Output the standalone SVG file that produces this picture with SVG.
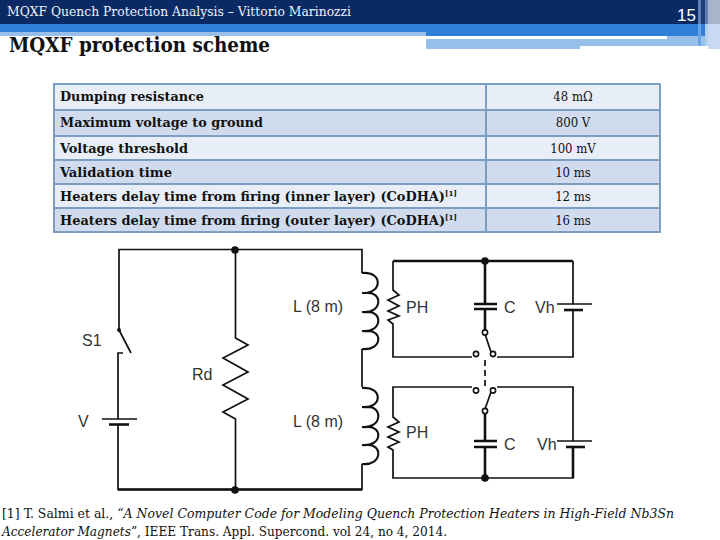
<svg xmlns="http://www.w3.org/2000/svg" width="720" height="540" viewBox="0 0 720 540">
<style>
.t{font-family:"DejaVu Serif Condensed","DejaVu Serif",serif;fill:#111}
.b{font-weight:bold;font-size:13px}
.s{font-weight:bold;font-size:8px}
.v{font-size:13px;text-anchor:middle}
.c{font-family:"Liberation Sans",Arial,sans-serif;font-size:16px;fill:#333}
.w{fill:none;stroke:#111;stroke-width:1.7}
.l{fill:none;stroke:#111;stroke-width:2.1}
.k{fill:none;stroke:#111;stroke-width:2.6}
.o{fill:#fff;stroke:#111;stroke-width:1.6}
.row{stroke:#7a9fc2;stroke-width:2}
.r1{fill:#e8eef7}.r2{fill:#d0dcee}
</style>
<rect width="720" height="540" fill="#fff"/>
<g id="header">
<rect width="720" height="24" fill="#0a2a66"/>
<rect y="24" width="720" height="12" fill="#2f7fd6"/>
<rect y="32" width="426" height="4" fill="#98bfea"/>
<rect x="426" y="39" width="154" height="10" fill="#98bfea"/>
<rect x="580" y="39" width="87" height="7" fill="#98bfea"/>
<rect x="667" y="36" width="41" height="10" fill="#98bfea"/>
<rect x="698" y="0" width="3" height="46" fill="#5f80b4"/>
<rect x="701" y="0" width="4" height="24" fill="#1d3c78"/>
<rect x="705" y="0" width="3" height="24" fill="#5f80b4"/>
<rect x="698" y="24" width="3" height="22" fill="#6aa4e6"/>
<rect x="705" y="24" width="3" height="22" fill="#b4d0f0"/>
<rect x="708" y="0" width="12" height="24" fill="#a8b4cc"/>
<rect x="708" y="24" width="12" height="25" fill="#c8daf2"/>
<text x="7" y="16" textLength="344" lengthAdjust="spacingAndGlyphs" style="font-family:'DejaVu Serif Condensed','DejaVu Serif',serif;font-size:13px;fill:#eef2f8">MQXF Quench Protection Analysis – Vittorio Marinozzi</text>
<text x="677" y="21" style="font-family:'Liberation Sans',Arial,sans-serif;font-size:17px;fill:#fff">15</text>
</g>
<text class="t" x="9" y="52" textLength="261" lengthAdjust="spacingAndGlyphs" font-size="20" font-weight="bold" fill="#000">MQXF protection scheme</text>
<g id="table">
<rect class="row r1" x="54" y="84" width="432" height="26"/><rect class="row r1" x="486" y="84" width="174" height="26"/>
<rect class="row r2" x="54" y="110" width="432" height="26"/><rect class="row r2" x="486" y="110" width="174" height="26"/>
<rect class="row r1" x="54" y="136" width="432" height="24"/><rect class="row r1" x="486" y="136" width="174" height="24"/>
<rect class="row r2" x="54" y="160" width="432" height="24"/><rect class="row r2" x="486" y="160" width="174" height="24"/>
<rect class="row r1" x="54" y="184" width="432" height="24"/><rect class="row r1" x="486" y="184" width="174" height="24"/>
<rect class="row r2" x="54" y="208" width="432" height="24"/><rect class="row r2" x="486" y="208" width="174" height="24"/>
<text class="t b" x="60" y="101" textLength="144" lengthAdjust="spacingAndGlyphs">Dumping resistance</text>
<text class="t b" x="60" y="127" textLength="203" lengthAdjust="spacingAndGlyphs">Maximum voltage to ground</text>
<text class="t b" x="60" y="153" textLength="128" lengthAdjust="spacingAndGlyphs">Voltage threshold</text>
<text class="t b" x="60" y="177" textLength="112" lengthAdjust="spacingAndGlyphs">Validation time</text>
<text class="t b" x="60" y="201" textLength="385" lengthAdjust="spacingAndGlyphs">Heaters delay time from firing (inner layer) (CoDHA)</text>
<text class="t s" x="445" y="196">[1]</text>
<text class="t b" x="60" y="225" textLength="385" lengthAdjust="spacingAndGlyphs">Heaters delay time from firing (outer layer) (CoDHA)</text>
<text class="t s" x="445" y="220">[1]</text>
<text class="t v" x="573" y="101">48 mΩ</text>
<text class="t v" x="573" y="127">800 V</text>
<text class="t v" x="573" y="153">100 mV</text>
<text class="t v" x="573" y="177">10 ms</text>
<text class="t v" x="573" y="201">12 ms</text>
<text class="t v" x="573" y="225">16 ms</text>
</g>
<g id="connectors">
<path class="w" d="M119 330V249.5H362V273M362 349V387M362 464V489.5H118V424M118 419V353H123"/>
<path class="k" d="M118 489.5H362"/>
<path class="w" d="M119 330L131 353"/>
<path class="w" d="M235.5 249.5V338L248 345L223 358L248 372L223 385L248 399L223 412L235.5 419V489.5"/>
<path class="l" d="M362 273C383 271 383 294 362 293M366 293C383 291 383 314 362 312M366 312C383 310 383 333 362 331M366 331C383 329 383 351 362 349"/>
<path class="l" d="M362 388C383 386 383 409 362 407M366 407C383 405 383 429 362 427M366 427C383 425 383 447 362 445M366 445C383 443 383 466 362 464"/>
<path class="k" d="M393 261H573M485 261V304M485 309V331"/>
<path class="w" d="M573 261V304M573 310V357H497M472 357H393V324L388 320L399 316L388 311L399 306L388 300L399 295L393 290V261"/>
<path class="w" d="M485 334L491 352"/>
<path class="w" stroke-dasharray="6 4" d="M485 360V386"/>
<path class="w" d="M472 387H393V417L399 422L388 427L399 432L388 437L399 442L388 447L393 450V478H573V447M573 441V387H497"/>
<path class="k" d="M485 413V441M485 447V478M573 447V478"/>
<path class="w" d="M491 392L485 409"/>
</g>
<g id="S1"><circle cx="119" cy="330" r="2" fill="#111"/><text class="c" x="82" y="346">S1</text></g>
<g id="V"><path class="w" d="M102 419H137"/><path class="k" stroke-width="3" d="M109 424.5H129"/><text class="c" x="78" y="427">V</text></g>
<g id="Rd"><text class="c" x="192" y="380">Rd</text></g>
<g id="L1"><text class="c" x="293" y="312">L (8 m)</text></g>
<g id="L2"><text class="c" x="293" y="427">L (8 m)</text></g>
<g id="J1"><circle cx="235" cy="250" r="3.8" fill="#111"/></g>
<g id="J2"><circle cx="235" cy="490" r="3.8" fill="#111"/></g>
<g id="J3"><circle cx="485" cy="261" r="3.8" fill="#111"/></g>
<g id="J4"><circle cx="485" cy="478" r="3.8" fill="#111"/></g>
<g id="PH1"><text class="c" x="406" y="313">PH</text></g>
<g id="C1"><path class="k" d="M474 304H497M474 309H497"/><text class="c" x="504" y="313">C</text></g>
<g id="Vh1"><path class="w" d="M557 304H592"/><path class="k" d="M564 310H583"/><text class="c" x="535" y="313">Vh</text></g>
<g id="SW1"><circle class="o" cx="485" cy="332.5" r="2.6"/><circle class="o" cx="476" cy="354" r="2.6"/><circle class="o" cx="493" cy="354" r="2.6"/></g>
<g id="SW2"><circle class="o" cx="485" cy="411" r="2.6"/><circle class="o" cx="476" cy="390.5" r="2.6"/><circle class="o" cx="493" cy="390.5" r="2.6"/></g>
<g id="PH2"><text class="c" x="406" y="438">PH</text></g>
<g id="C2"><path class="k" d="M474 441H497M474 447H497"/><text class="c" x="504" y="450">C</text></g>
<g id="Vh2"><path class="w" d="M557 441H592"/><path class="k" d="M566 447H585"/><text class="c" x="537" y="450">Vh</text></g>
<g id="footnote">
<text x="2" y="518" textLength="672" lengthAdjust="spacingAndGlyphs" class="t" font-size="13">[1] T. Salmi et al., “<tspan font-style="italic">A Novel Computer Code for Modeling Quench Protection Heaters in High-Field Nb3Sn</tspan></text>
<text x="2" y="536" textLength="445" lengthAdjust="spacingAndGlyphs" class="t" font-size="13"><tspan font-style="italic">Accelerator Magnets</tspan>”, IEEE Trans. Appl. Supercond. vol 24, no 4, 2014.</text>
</g>
</svg>
